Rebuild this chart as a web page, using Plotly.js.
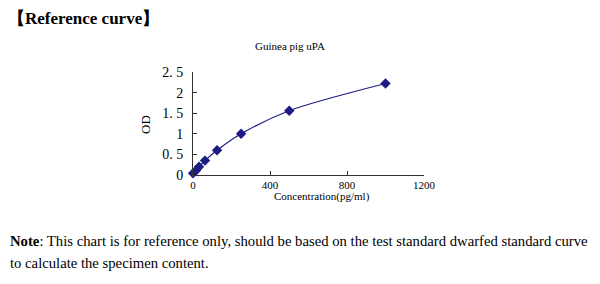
<!DOCTYPE html>
<html>
<head>
<meta charset="utf-8">
<script src="https://cdn.plot.ly/plotly-3.0.1.min.js"></script>
<style>html,body{margin:0;padding:0;background:#fff;}#chart{width:600px;height:284px;}</style>
</head>
<body>
<div id="chart"></div>
<script>
const concentration = [0, 15.6, 31.25, 62.5, 125, 250, 500, 1000];
const od = [0.04, 0.11, 0.2, 0.35, 0.6, 1.0, 1.56, 2.22];
const yTickVals = [0, 0.5, 1, 1.5, 2, 2.5];
const yTickText = ['0', '0. 5', '1', '1. 5', '2', '2. 5'];
const xTickVals = [0, 400, 800, 1200];
const xTickText = ['0', '400', '800', '1200'];

const serif = 'Liberation Serif, Times New Roman, serif';
const navy = '#1c1c84';

const trace = {
  x: concentration, y: od, type: 'scatter', mode: 'lines+markers',
  line: {color: navy, width: 1.2, shape: 'spline', smoothing: 0.8},
  marker: {symbol: 'diamond', size: 8, color: navy},
  cliponaxis: false, hoverinfo: 'none'
};

const layout = {
  width: 600, height: 284,
  margin: {l: 193, r: 176, t: 72, b: 109},
  paper_bgcolor: '#fff', plot_bgcolor: '#fff',
  showlegend: false,
  font: {family: serif, color: '#000'},
  xaxis: {
    range: [0, 1200], tickvals: xTickVals, ticktext: xTickText,
    showgrid: false, zeroline: false, showline: true, linecolor: '#333', linewidth: 1,
    ticks: 'inside', ticklen: 4, tickcolor: '#333',
    tickfont: {family: serif, size: 11, color: '#000'}, fixedrange: true
  },
  yaxis: {
    range: [0, 2.5], tickvals: yTickVals, ticktext: yTickText,
    showgrid: false, zeroline: false, showline: true, linecolor: '#333', linewidth: 1,
    ticks: 'inside', ticklen: 4, tickcolor: '#333', ticklabelstandoff: 6,
    tickfont: {family: serif, size: 14, color: '#000'}, fixedrange: true
  },
  annotations: [
    {text: '<b>【Reference curve】</b>', xref: 'paper', yref: 'paper', x: -0.81, y: 1.524,
     xanchor: 'left', yanchor: 'middle', showarrow: false, font: {family: serif, size: 17, color: '#000'}},
    {text: 'Guinea pig uPA', xref: 'paper', yref: 'paper', x: 0.42, y: 1.252,
     xanchor: 'center', yanchor: 'middle', showarrow: false, font: {family: serif, size: 11, color: '#000'}},
    {text: 'OD', xref: 'paper', yref: 'paper', x: -0.208, y: 0.495, textangle: -90,
     xanchor: 'center', yanchor: 'middle', showarrow: false, font: {family: serif, size: 13, color: '#000'}},
    {text: 'Concentration(pg/ml)', xref: 'paper', yref: 'paper', x: 0.558, y: -0.204,
     xanchor: 'center', yanchor: 'middle', showarrow: false, font: {family: serif, size: 11, color: '#000'}},
    {text: '<b>Note</b>: This chart is for reference only, should be based on the test standard dwarfed standard curve',
     xref: 'paper', yref: 'paper', x: -0.801, y: -0.641, xanchor: 'left', yanchor: 'middle',
     showarrow: false, font: {family: serif, size: 14.7, color: '#000'}},
    {text: 'to calculate the specimen content.',
     xref: 'paper', yref: 'paper', x: -0.801, y: -0.854, xanchor: 'left', yanchor: 'middle',
     showarrow: false, font: {family: serif, size: 14.7, color: '#000'}}
  ]
};

Plotly.newPlot('chart', [trace], layout, {staticPlot: true, displayModeBar: false});
</script>
</body>
</html>
